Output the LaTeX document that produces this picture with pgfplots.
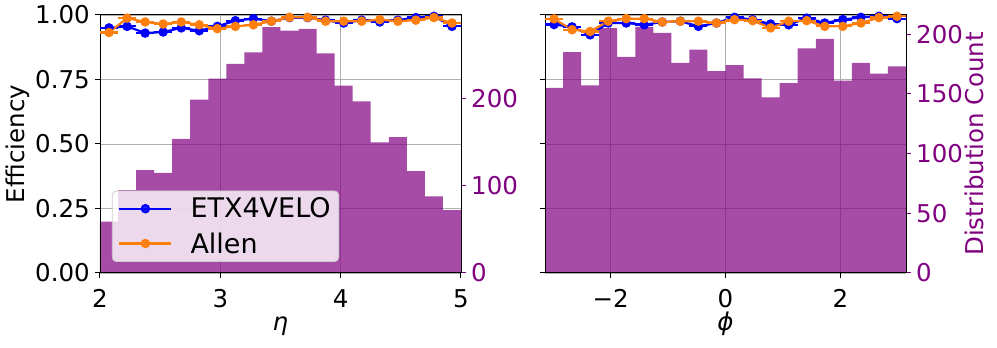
\documentclass[border=0pt]{standalone}
\usepackage{fontspec}
\setmainfont{DejaVu Sans}
\usepackage{pgfplots}
\pgfplotsset{compat=1.18}
\definecolor{mplblue}{RGB}{0,0,255}
\definecolor{mplorange}{RGB}{255,127,14}
\definecolor{histpurple}{RGB}{128,0,128}
\definecolor{gridgray}{RGB}{176,176,176}
\definecolor{legedge}{RGB}{204,204,204}

\pgfplotsset{
  base/.style={scale only axis, width=361pt, height=258pt,
    font=\fontsize{24.5}{29}\selectfont,
    /pgf/number format/assume math mode=true,
    tick align=outside, major tick length=5pt,
    tick style={black, line width=1pt},
    tick label style={inner sep=0pt},
    xticklabel shift=11pt, yticklabel shift=5pt},
  gridax/.style={base, ymin=0, ymax=1, grid=major,
    grid style={gridgray, line width=0.9pt},
    axis line style={draw=none}, xtick pos=left, ytick pos=left,
    ytick={0,0.25,0.5,0.75,1},
    xlabel style={at={(axis description cs:0.5,-0.221)}, anchor=base}},
  histax/.style={base, axis y line*=right, axis x line=none,
    y axis line style={draw=none},
    ytick style={histpurple, line width=1pt},
    yticklabel style={histpurple}},
  lineax/.style={base, ymin=0, ymax=1, xtick=\empty, ytick=\empty,
    axis line style={black, line width=1pt}},
  eff/.style={line width=2.2pt, mark=*, mark size=3.6pt,
    error bars/.cd, x dir=both, x fixed=#1, error mark=none,
    error bar style={line width=2.2pt}},
}

\begin{document}
\begin{tikzpicture}
\useasboundingbox (-100pt,-75pt) rectangle (897pt,273pt);

% ---- eta panel
\begin{axis}[gridax, xmin=2, xmax=5, xtick={2,3,4,5},
  yticklabel style={/pgf/number format/.cd, fixed, fixed zerofill, precision=2},
  xlabel={\itshape η}, ylabel={Efficiency},
  ylabel style={at={(axis description cs:-0.227,0.5)}, anchor=center}]
\end{axis}
\begin{axis}[histax, xmin=2, xmax=5, ymin=0, ymax=296, ytick={0,100,200}]
\addplot[ybar interval, fill=histpurple, fill opacity=0.7, draw=none] coordinates {
(2.00,59)(2.15,95)(2.30,118)(2.45,115)(2.60,154)(2.75,199)(2.90,223)(3.05,240)(3.20,253)(3.35,282)
(3.50,278)(3.65,280)(3.80,252)(3.95,215)(4.10,197)(4.25,150)(4.40,156)(4.55,117)(4.70,88)(4.85,72)(5.00,72)};
\end{axis}
\begin{axis}[lineax, xmin=2, xmax=5,
  legend style={at={(0.033,0.043)}, anchor=south west, rounded corners=4pt,
    fill=white, fill opacity=0.8, text opacity=1, draw=legedge, line width=0.8pt,
    font=\fontsize{27}{31}\selectfont, inner xsep=6pt, inner ysep=5pt,
    row sep=9pt, /tikz/every odd column/.append style={column sep=16pt}},
  legend cell align=left,
  legend image code/.code={\draw[mark repeat=2, mark phase=2, line width=2.2pt, mark size=3.6pt]
    plot coordinates {(0pt,0pt)(26pt,0pt)(52pt,0pt)};}]
\addplot[mplblue, eff=0.075] coordinates {
(2.075,0.950)(2.225,0.956)(2.375,0.930)(2.525,0.934)(2.675,0.950)(2.825,0.939)(2.975,0.956)(3.125,0.978)(3.275,0.986)(3.425,0.976)
(3.575,0.990)(3.725,0.990)(3.875,0.980)(4.025,0.969)(4.175,0.980)(4.325,0.973)(4.475,0.980)(4.625,0.990)(4.775,0.995)(4.925,0.956)};
\addlegendentry{ETX4VELO}
\addplot[mplorange, eff=0.075] coordinates {
(2.075,0.932)(2.225,0.988)(2.375,0.973)(2.525,0.965)(2.675,0.973)(2.825,0.962)(2.975,0.947)(3.125,0.956)(3.275,0.962)(3.425,0.976)
(3.575,0.991)(3.725,0.991)(3.875,0.976)(4.025,0.976)(4.175,0.976)(4.325,0.982)(4.475,0.976)(4.625,0.980)(4.775,0.990)(4.925,0.969)};
\addlegendentry{Allen}
\end{axis}

% ---- phi panel
\begin{axis}[gridax, at={(445pt,0pt)}, xmin=-3.14159, xmax=3.14159,
  xtick={-2,0,2}, xticklabels={−2,0,2}, yticklabels={},
  xlabel={\itshape ϕ}]
\end{axis}
\begin{axis}[histax, at={(445pt,0pt)}, xmin=-3.14159, xmax=3.14159, ymin=0, ymax=216,
  ytick={0,50,100,150,200}, ylabel={Distribution Count},
  ylabel style={histpurple, at={(axis description cs:1.188,0.5)}, anchor=center}]
\addplot[ybar interval, fill=histpurple, fill opacity=0.7, draw=none] coordinates {
(-3.1416,155)(-2.8274,185)(-2.5133,157)(-2.1991,205)(-1.8850,181)(-1.5708,206)(-1.2566,201)(-0.9425,176)(-0.6283,187)(-0.3142,169)
(0.0000,174)(0.3142,163)(0.6283,147)(0.9425,159)(1.2566,188)(1.5708,196)(1.8850,161)(2.1991,176)(2.5133,167)(2.8274,173)(3.1416,173)};
\end{axis}
\begin{axis}[lineax, at={(445pt,0pt)}, xmin=-3.14159, xmax=3.14159]
\addplot[mplblue, eff=0.15708] coordinates {
(-2.9845,0.963)(-2.6704,0.954)(-2.3562,0.923)(-2.0420,0.969)(-1.7279,0.969)(-1.4137,0.962)(-1.0996,0.973)(-0.7854,0.976)(-0.4712,0.956)(-0.1571,0.969)
(0.1571,0.991)(0.4712,0.982)(0.7854,0.965)(1.0996,0.962)(1.4137,0.988)(1.7279,0.969)(2.0420,0.982)(2.3562,0.991)(2.6704,0.995)(2.9845,0.986)};
\addplot[mplorange, eff=0.15708] coordinates {
(-2.9845,0.985)(-2.6704,0.943)(-2.3562,0.936)(-2.0420,0.976)(-1.7279,0.986)(-1.4137,0.986)(-1.0996,0.973)(-0.7854,0.976)(-0.4712,0.976)(-0.1571,0.969)
(0.1571,0.982)(0.4712,0.978)(0.7854,0.950)(1.0996,0.976)(1.4137,0.978)(1.7279,0.956)(2.0420,0.956)(2.3562,0.969)(2.6704,0.990)(2.9845,0.995)};
\end{axis}
\end{tikzpicture}
\end{document}
